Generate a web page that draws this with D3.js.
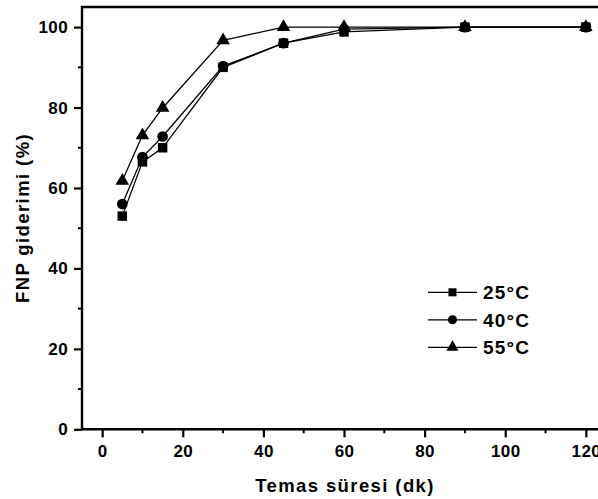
<!DOCTYPE html>
<meta charset="utf-8">
<style>
  body { margin: 0; background: #fff; }
  text { font-family: Arial, "Liberation Sans", sans-serif; font-weight: bold; fill: #000; }
</style>
<body>
<script src="https://cdn.jsdelivr.net/npm/d3@7"></script>
<script>
    // zaman (dk)
    var times = [5, 10, 15, 30, 45, 60, 90, 120];
    var s25 = [53, 66.5, 70, 90, 96, 98.8, 100, 100];
    var s40 = [56, 67.7, 72.8, 90.3, 96, 99.5, 100, 100];
    var s55 = [61.8, 73.1, 79.9, 96.7, 100, 100, 100, 100];
    var seriesNames = ["25°C", "40°C", "55°C"];
    var symbols = [d3.symbolSquare, d3.symbolCircle, d3.symbolTriangle];
    var xTicks = [0, 20, 40, 60, 80, 100, 120];
    var yTicks = [0, 20, 40, 60, 80, 100];

    var svg = d3.select("body").append("svg")
        .attr("width", 598)
        .attr("height", 499);

    var x = d3.scaleLinear().domain([-5, 125]).range([82, 606]);
    var y = d3.scaleLinear().domain([0, 105]).range([429.3, 7]);

    // çerçeve (sağ taraf resimden taşıyor)
    svg.append("path")
        .attr("d", "M" + x(-5) + "," + y(0) + "V" + y(105) + "H" + x(125) + "V" + y(0) + "Z")
        .attr("fill", "none")
        .attr("stroke", "#000")
        .attr("stroke-width", 2.4);

    // minor ticks
    svg.append("g").selectAll("line").data([10, 30, 50, 70, 90, 110]).enter().append("line")
        .attr("x1", function(d) { return x(d); }).attr("x2", function(d) { return x(d); })
        .attr("y1", y(0)).attr("y2", y(0) + 4)
        .attr("stroke", "#000").attr("stroke-width", 2);
    svg.append("g").selectAll("line").data([10, 30, 50, 70, 90]).enter().append("line")
        .attr("y1", function(d) { return y(d); }).attr("y2", function(d) { return y(d); })
        .attr("x1", x(-5)).attr("x2", x(-5) - 4)
        .attr("stroke", "#000").attr("stroke-width", 2);

    var xAxis = svg.append("g")
        .attr("transform", "translate(0," + y(0) + ")")
        .call(d3.axisBottom(x).tickValues(xTicks).tickSize(8).tickPadding(8).tickSizeOuter(0));
    var yAxis = svg.append("g")
        .attr("transform", "translate(" + x(-5) + ",0)")
        .call(d3.axisLeft(y).tickValues(yTicks).tickSize(8).tickPadding(6).tickSizeOuter(0));
    [xAxis, yAxis].forEach(function(a) {
        a.attr("font-family", null).attr("font-size", null);
        a.select(".domain").remove();
        a.selectAll(".tick line").attr("stroke", "#000").attr("stroke-width", 2.2);
        a.selectAll("text").attr("font-size", 17).attr("letter-spacing", 0.4).attr("fill", "#000");
    });

    var line = d3.line()
        .x(function(d) { return x(d[0]); })
        .y(function(d) { return y(d[1]); });

    var allSeries = [s25, s40, s55];
    allSeries.forEach(function(vals, i) {
        var pts = times.map(function(t, j) { return [t, vals[j]]; });
        svg.append("path")
            .datum(pts)
            .attr("fill", "none")
            .attr("stroke", "#000")
            .attr("stroke-width", 1.3)
            .attr("d", line);
        svg.append("g").selectAll("path").data(pts).enter().append("path")
            .attr("transform", function(d) { return "translate(" + x(d[0]) + "," + y(d[1]) + ")"; })
            .attr("d", d3.symbol().type(symbols[i]).size(i == 2 ? 80 : 90))
            .attr("fill", "#000");
    });

    // legend
    var lg = svg.append("g");
    seriesNames.forEach(function(name, i) {
        var ly = 292.3 + i * 27.5;
        lg.append("line").attr("x1", 428).attr("x2", 477).attr("y1", ly).attr("y2", ly)
            .attr("stroke", "#000").attr("stroke-width", 1.3);
        lg.append("path").attr("transform", "translate(452.5," + ly + ")")
            .attr("d", d3.symbol().type(symbols[i]).size(65))
            .attr("fill", "#000");
        lg.append("text").attr("x", 483).attr("y", ly + 6.8)
            .attr("font-size", 19).attr("letter-spacing", 1.2).text(name);
    });

    // axis titles
    svg.append("text")
        .attr("x", 345).attr("y", 492)
        .attr("text-anchor", "middle")
        .attr("font-size", 18.5)
        .attr("letter-spacing", 1.4)
        .text("Temas süresi (dk)");
    svg.append("text")
        .attr("transform", "translate(29,218) rotate(-90)")
        .attr("text-anchor", "middle")
        .attr("font-size", 18.5)
        .attr("letter-spacing", 1.4)
        .text("FNP giderimi (%)");
</script>
</body>
